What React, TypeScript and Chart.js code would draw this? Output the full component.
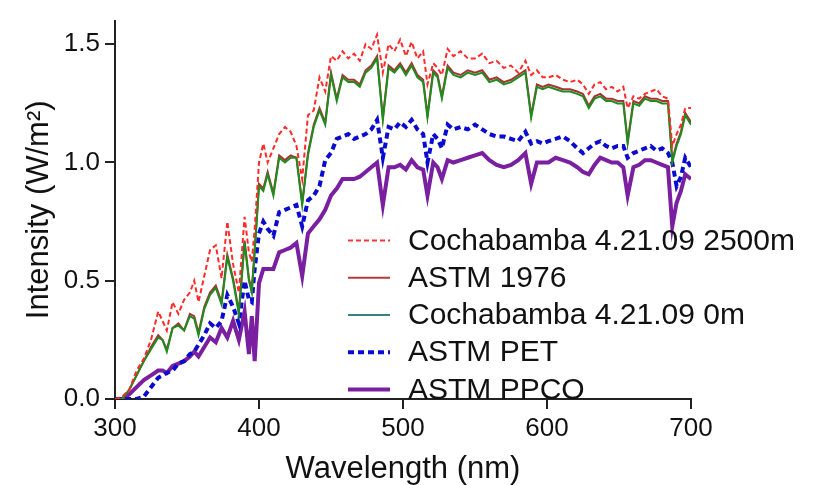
import React, { useEffect, useRef } from 'react';
import { Chart, registerables } from 'chart.js';

Chart.register(...registerables);

const wavelengths = [
  300, 305, 310, 315, 320, 325, 330, 333, 336, 340, 344, 348, 352, 355, 358, 362, 366, 370, 374, 378,
  382, 386, 390, 393, 395, 397, 400, 403, 406, 410, 414, 418, 422, 426, 430, 434, 438, 442, 446, 450,
  454, 458, 462, 466, 470, 474, 478, 482, 486, 490, 494, 498, 502, 506, 510, 514, 517, 521, 524, 527,
  531, 535, 540, 545, 550, 555, 560, 565, 570, 575, 580, 585, 589, 593, 597, 601, 606, 611, 616, 621,
  625, 629, 633, 637, 641, 645, 649, 653, 656, 660, 664, 668, 672, 676, 680, 684, 687, 690, 693, 696, 700,
];

const coch2500 = [
  0, 0.01, 0.04, 0.12, 0.17, 0.25, 0.37, 0.33, 0.29, 0.41, 0.36, 0.42, 0.45, 0.50, 0.41, 0.52, 0.63, 0.65, 0.51, 0.75,
  0.57, 0.45, 0.77, 0.62, 0.58, 0.72, 1.0, 1.08, 1.0, 1.06, 1.12, 1.15, 1.13, 1.07, 0.93, 1.20, 1.22, 1.36, 1.30, 1.45,
  1.43, 1.47, 1.44, 1.46, 1.43, 1.50, 1.48, 1.54, 1.38, 1.50, 1.47, 1.52, 1.45, 1.51, 1.44, 1.47, 1.33, 1.42, 1.40, 1.37,
  1.48, 1.45, 1.47, 1.44, 1.44, 1.46, 1.42, 1.43, 1.40, 1.41, 1.38, 1.43, 1.37, 1.39, 1.36, 1.36, 1.37, 1.35, 1.34, 1.35,
  1.33, 1.29, 1.33, 1.34, 1.31, 1.32, 1.30, 1.32, 1.23, 1.28, 1.27, 1.29, 1.30, 1.31, 1.28, 1.27, 1.07, 1.12, 1.16, 1.23, 1.23,
];

const astm1976 = [
  0, 0, 0.04, 0.10, 0.16, 0.22, 0.27, 0.25, 0.21, 0.30, 0.32, 0.29, 0.36, 0.35, 0.28, 0.39, 0.45, 0.48, 0.41, 0.61,
  0.51, 0.37, 0.67, 0.51, 0.46, 0.63, 0.91, 0.89, 0.96, 0.87, 1.03, 1.01, 1.03, 1.02, 0.83, 1.04, 1.16, 1.23, 1.17, 1.38,
  1.27, 1.37, 1.35, 1.35, 1.33, 1.39, 1.41, 1.45, 1.19, 1.41, 1.39, 1.42, 1.38, 1.42, 1.37, 1.35, 1.20, 1.39, 1.37, 1.28,
  1.41, 1.38, 1.37, 1.39, 1.38, 1.39, 1.35, 1.36, 1.34, 1.35, 1.37, 1.39, 1.20, 1.33, 1.32, 1.33, 1.32, 1.31, 1.31, 1.30,
  1.29, 1.24, 1.28, 1.29, 1.27, 1.27, 1.26, 1.26, 1.09, 1.26, 1.25, 1.28, 1.27, 1.27, 1.26, 1.26, 1.01, 1.08, 1.13, 1.21, 1.17,
];

const coch0 = [
  0, 0, 0.04, 0.10, 0.16, 0.21, 0.26, 0.25, 0.20, 0.30, 0.31, 0.29, 0.35, 0.34, 0.27, 0.38, 0.44, 0.47, 0.40, 0.60,
  0.50, 0.36, 0.66, 0.50, 0.45, 0.62, 0.90, 0.88, 0.95, 0.86, 1.02, 1.00, 1.02, 1.02, 0.82, 1.03, 1.15, 1.22, 1.16, 1.37,
  1.26, 1.36, 1.34, 1.34, 1.32, 1.38, 1.40, 1.44, 1.18, 1.40, 1.38, 1.41, 1.37, 1.41, 1.36, 1.34, 1.19, 1.38, 1.36, 1.27,
  1.40, 1.37, 1.36, 1.38, 1.37, 1.38, 1.34, 1.35, 1.33, 1.34, 1.36, 1.38, 1.19, 1.32, 1.31, 1.32, 1.31, 1.30, 1.30, 1.29,
  1.28, 1.23, 1.27, 1.28, 1.26, 1.26, 1.25, 1.25, 1.08, 1.25, 1.24, 1.27, 1.26, 1.26, 1.25, 1.25, 1.00, 1.07, 1.12, 1.20, 1.16,
];

const astmPET = [
  0, 0, 0, 0, 0.01, 0.05, 0.09, 0.10, 0.11, 0.12, 0.15, 0.16, 0.19, 0.20, 0.23, 0.27, 0.32, 0.30, 0.33, 0.44,
  0.39, 0.32, 0.50, 0.42, 0.41, 0.55, 0.70, 0.75, 0.72, 0.69, 0.79, 0.80, 0.81, 0.82, 0.73, 0.84, 0.86, 0.90, 1.01, 1.04,
  1.10, 1.11, 1.12, 1.10, 1.11, 1.12, 1.14, 1.18, 1.02, 1.15, 1.14, 1.17, 1.15, 1.18, 1.14, 1.12, 1.00, 1.12, 1.10, 1.06,
  1.16, 1.14, 1.15, 1.14, 1.16, 1.14, 1.12, 1.11, 1.11, 1.10, 1.09, 1.13, 1.08, 1.09, 1.08, 1.09, 1.10, 1.11, 1.09, 1.06,
  1.04, 1.06, 1.08, 1.09, 1.07, 1.06, 1.07, 1.07, 1.02, 1.04, 1.05, 1.06, 1.07, 1.05, 1.06, 1.04, 1.00, 0.90, 0.94, 1.02, 0.98,
];

const astmPPCO = [
  0, 0, 0.02, 0.05, 0.08, 0.10, 0.12, 0.12, 0.11, 0.14, 0.15, 0.16, 0.18, 0.20, 0.18, 0.22, 0.26, 0.24, 0.30, 0.26,
  0.33, 0.25, 0.37, 0.19, 0.35, 0.16, 0.49, 0.55, 0.55, 0.55, 0.62, 0.63, 0.64, 0.66, 0.52, 0.70, 0.73, 0.76, 0.80, 0.86,
  0.89, 0.93, 0.93, 0.93, 0.94, 0.96, 0.98, 1.00, 0.82, 0.98, 0.98, 0.99, 0.97, 1.01, 0.98, 0.97, 0.86, 1.00, 0.98, 0.93,
  1.01, 1.00, 1.01, 1.02, 1.03, 1.04, 1.01, 0.99, 0.98, 0.99, 1.01, 1.04, 0.91, 1.00, 1.00, 1.00, 1.02, 1.01, 1.00, 0.98,
  0.96, 0.95, 0.99, 1.02, 1.01, 1.00, 1.00, 0.98, 0.86, 0.98, 0.99, 1.01, 1.01, 1.00, 0.99, 0.98, 0.73, 0.83, 0.88, 0.95, 0.93,
];

const seriesLabels = [
  'Cochabamba 4.21.09 2500m',
  'ASTM 1976',
  'Cochabamba 4.21.09 0m',
  'ASTM PET',
  'ASTM PPCO',
];

const xTicks = [300, 400, 500, 600, 700];
const yTicks = [0, 0.5, 1.0, 1.5];

const FONT = "'Liberation Sans', Arial, Helvetica, sans-serif";

const lineColors = ['#ff2a2a', '#a83232', '#1f8c1f', '#0b0bd0', '#7a1fa0'];
const legendColors = ['#ff3535', '#b83a3a', '#3a8080', '#0b0bd0', '#7a1fa0'];
const lineWidths = [2, 2, 2, 4, 4];
const lineDashes: number[][] = [[5, 3], [], [], [6, 4], []];
const drawOrder = [0, 2, 1, 3, 4];

const insideLegend = {
  id: 'insideLegend',
  afterDatasetsDraw(chart: any) {
    const { ctx, chartArea } = chart;
    const x0 = chartArea.left + 233;
    const x1 = chartArea.left + 275;
    const tx = chartArea.left + 293;
    const y0 = chartArea.top + 220;
    const dy = 37.2;
    ctx.save();
    seriesLabels.forEach((label, i) => {
      const y = y0 + i * dy;
      ctx.beginPath();
      ctx.setLineDash(lineDashes[i]);
      ctx.lineCap = 'butt';
      ctx.lineWidth = lineWidths[i];
      ctx.strokeStyle = legendColors[i];
      ctx.moveTo(x0, y);
      ctx.lineTo(x1, y);
      ctx.stroke();
      ctx.setLineDash([]);
      ctx.fillStyle = '#111';
      ctx.font = `30px ${FONT}`;
      ctx.textAlign = 'left';
      ctx.textBaseline = 'middle';
      ctx.fillText(label, tx, y + 1);
    });
    ctx.restore();
  },
};

export default function App() {
  const ref = useRef<HTMLCanvasElement | null>(null);

  useEffect(() => {
    if (!ref.current) return;
    const series = [coch2500, astm1976, coch0, astmPET, astmPPCO];
    const chart = new Chart(ref.current, {
      type: 'line',
      data: {
        datasets: series.map((vals, i) => ({
          label: seriesLabels[i],
          data: wavelengths.map((w, j) => ({ x: w, y: vals[j] })),
          borderColor: lineColors[i],
          backgroundColor: lineColors[i],
          borderWidth: lineWidths[i],
          borderDash: lineDashes[i],
          pointRadius: 0,
          tension: 0,
          fill: false,
          order: drawOrder[i],
        })),
      },
      options: {
        responsive: false,
        animation: false,
        devicePixelRatio: 1,
        layout: { padding: { top: 14, right: 129, left: 0, bottom: 0 } },
        plugins: {
          legend: { display: false },
          tooltip: { enabled: false },
        },
        scales: {
          x: {
            type: 'linear',
            min: 300,
            max: 700,
            afterBuildTicks: (s: any) => {
              s.ticks = xTicks.map((v) => ({ value: v }));
            },
            afterFit: (s: any) => {
              s.height = 86;
            },
            grid: { drawOnChartArea: false, drawTicks: true, tickLength: 10, color: '#222', lineWidth: 2 },
            border: { display: true, color: '#222', width: 2 },
            ticks: {
              color: '#111',
              font: { family: FONT, size: 26 },
              padding: 4,
              maxRotation: 0,
              autoSkip: false,
              callback: (v: any) => String(v),
            },
            title: {
              display: true,
              text: 'Wavelength (nm)',
              color: '#111',
              font: { family: FONT, size: 31, lineHeight: 1 },
              padding: { top: 0, bottom: 0 },
            },
          },
          y: {
            type: 'linear',
            min: 0,
            max: 1.6,
            afterBuildTicks: (s: any) => {
              s.ticks = yTicks.map((v) => ({ value: v }));
            },
            afterFit: (s: any) => {
              s.width = 115;
            },
            grid: { drawOnChartArea: false, drawTicks: true, tickLength: 10, color: '#222', lineWidth: 2 },
            border: { display: true, color: '#222', width: 2 },
            ticks: {
              color: '#111',
              font: { family: FONT, size: 26 },
              padding: 5,
              autoSkip: false,
              callback: (v: any) => Number(v).toFixed(1),
            },
            title: {
              display: true,
              text: 'Intensity (W/m²)',
              color: '#111',
              font: { family: FONT, size: 31, lineHeight: 1 },
              padding: { top: 24, bottom: 0 },
            },
          },
        },
      },
      plugins: [insideLegend],
    } as any);
    return () => chart.destroy();
  }, []);

  return (
    <div style={{ position: 'absolute', left: 0, top: 0, width: 820, height: 485, background: '#fff' }}>
      <canvas ref={ref} width={820} height={485} style={{ display: 'block' }} />
    </div>
  );
}
